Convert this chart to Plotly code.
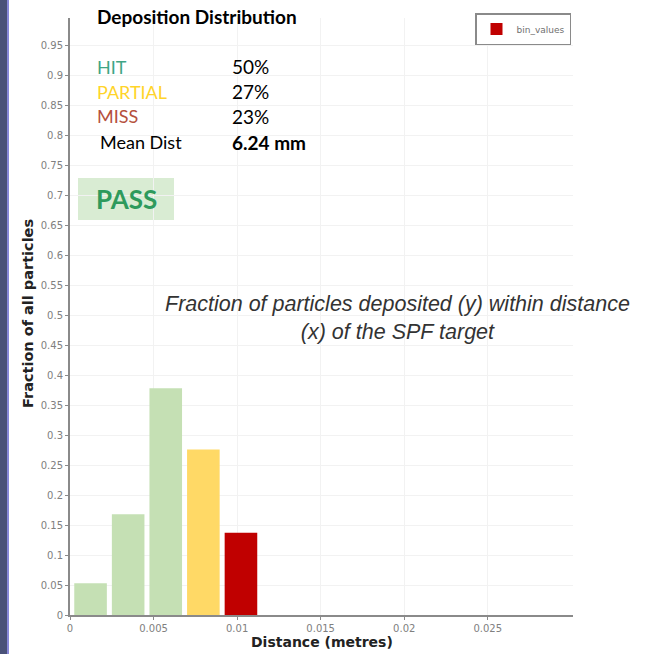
import plotly.graph_objects as go

# ---- data ----
bin_centers = [0.00123, 0.00348, 0.00573, 0.00798, 0.01023]
bin_values = [0.053, 0.168, 0.378, 0.276, 0.137]
bin_colors = ["#c5e0b4", "#c5e0b4", "#c5e0b4", "#ffd966", "#c00000"]
bin_width = 0.00195

y_tickvals = [0, 0.05, 0.1, 0.15, 0.2, 0.25, 0.3, 0.35, 0.4, 0.45, 0.5, 0.55, 0.6,
              0.65, 0.7, 0.75, 0.8, 0.85, 0.9, 0.95]
y_ticktext = ["0", "0.05", "0.1", "0.15", "0.2", "0.25", "0.3", "0.35", "0.4", "0.45",
              "0.5", "0.55", "0.6", "0.65", "0.7", "0.75", "0.8", "0.85", "0.9", "0.95"]
x_tickvals = [0, 0.005, 0.01, 0.015, 0.02, 0.025]
x_ticktext = ["0", "0.005", "0.01", "0.015", "0.02", "0.025"]

summary_labels = ["HIT", "PARTIAL", "MISS"]
summary_values = ["50%", "27%", "23%"]
summary_colors = ["#3fa585", "#ffd42a", "#b5503c"]
mean_dist = "6.24 mm"
status = "PASS"

# ---- layout geometry (pixels) ----
W, H = 661, 654
L, R, T, B = 70, 88, 18, 39
PW, PH = W - L - R, H - T - B


def px(x):
    return (x - L) / PW


def py(y):
    return (H - B - y) / PH


fig = go.Figure()
n = len(bin_values)
for i in range(n):
    fig.add_trace(go.Bar(
        x=[bin_centers[i]], y=[bin_values[i]], width=bin_width,
        marker=dict(color=bin_colors[i], line=dict(width=0)),
        name="bin_values", legendgroup="bins",
        showlegend=(i == n - 1),
    ))

axis_common = dict(
    showline=True, linecolor="#8a8a8a", linewidth=2,
    ticks="outside", ticklen=3, tickcolor="#8a8a8a",
    showgrid=True, gridcolor="#f2f2f2", gridwidth=1,
    zeroline=False,
    tickfont=dict(family="DejaVu Sans", size=10, color="#808080"),
)

fig.update_layout(
    width=W, height=H,
    margin=dict(l=L, r=R, t=T, b=B),
    paper_bgcolor="white", plot_bgcolor="white",
    barmode="overlay",
    xaxis=dict(range=[0, 0.0301], tickvals=x_tickvals, ticktext=x_ticktext, **axis_common),
    yaxis=dict(range=[0, 0.995], tickvals=y_tickvals, ticktext=y_ticktext, **axis_common),
    showlegend=True,
    legend=dict(
        x=px(571), y=py(13), xanchor="right", yanchor="top",
        bordercolor="#8a8a8a", borderwidth=1.5, bgcolor="white",
        font=dict(family="DejaVu Sans", size=9, color="#707070"),
        itemwidth=30, tracegroupgap=0,
    ),
)

ann = []
# title
ann.append(dict(x=px(95), y=py(17), text="<b>Deposition Distribution</b>",
                font=dict(family="Lato", size=19, color="black"),
                xanchor="left", yanchor="middle"))
rows_y = [67, 92, 116]
for lab, val, col, yy in zip(summary_labels, summary_values, summary_colors, rows_y):
    ann.append(dict(x=px(95), y=py(yy), text=lab, font=dict(family="Lato", size=18, color=col),
                    xanchor="left", yanchor="middle"))
    ann.append(dict(x=px(230), y=py(yy), text=val, font=dict(family="Lato", size=19, color="black"),
                    xanchor="left", yanchor="middle"))
ann.append(dict(x=px(98), y=py(142), text="Mean Dist", font=dict(family="Lato", size=18, color="black"),
                xanchor="left", yanchor="middle"))
ann.append(dict(x=px(230), y=py(142), text="<b>" + mean_dist + "</b>",
                font=dict(family="Lato", size=19, color="black"), xanchor="left", yanchor="middle"))
ann.append(dict(x=px(126), y=py(199), text="<b>" + status + "</b>",
                font=dict(family="Lato", size=26, color="#2e9a5c"), xanchor="center", yanchor="middle"))
# italic note
ann.append(dict(x=px(397), y=py(318),
                text="<i>Fraction of particles deposited (y) within distance<br>(x) of the SPF target</i>",
                font=dict(family="Liberation Sans", size=21.5, color="#333333"),
                xanchor="center", yanchor="middle", align="center"))
# axis titles
ann.append(dict(x=px(28), y=py(314), text="<b>Fraction of all particles</b>", textangle=-90,
                font=dict(family="DejaVu Sans", size=14.5, color="#222222"),
                xanchor="center", yanchor="middle"))
ann.append(dict(x=px(322), y=py(642), text="<b>Distance (metres)</b>",
                font=dict(family="DejaVu Sans", size=14, color="#222222"),
                xanchor="center", yanchor="middle"))
for a in ann:
    a.update(xref="paper", yref="paper", showarrow=False)
fig.update_layout(annotations=ann)

shapes = [
    dict(type="rect", xref="paper", yref="paper", x0=px(78), x1=px(174), y0=py(220), y1=py(178),
         fillcolor="#d9ecd3", line=dict(width=0), layer="below"),
    dict(type="rect", xref="paper", yref="paper", x0=px(0), x1=px(7), y0=py(654), y1=py(0),
         fillcolor="#4a5178", line=dict(width=0)),
    dict(type="rect", xref="paper", yref="paper", x0=px(7), x1=px(9), y0=py(654), y1=py(0),
         fillcolor="#8888d8", line=dict(width=0)),
]
fig.update_layout(shapes=shapes)

fig.write_html("out.html", config={"displayModeBar": False},
               post_script="document.body.style.margin='0';document.body.style.overflow='hidden';")
